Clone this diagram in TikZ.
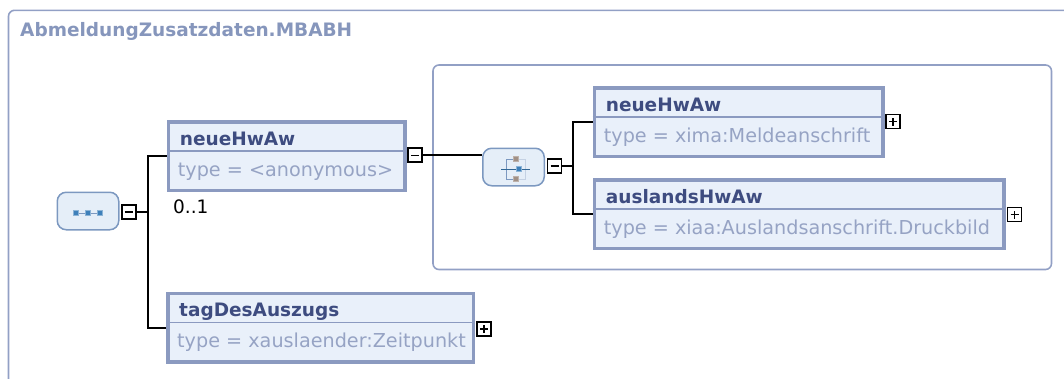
\documentclass[tikz,border=0pt]{standalone}
\usepackage{fontspec}
\setmainfont{DejaVu Sans}
\usetikzlibrary{positioning}
\definecolor{elemline}{RGB}{139, 154, 192}
\definecolor{elemfill}{RGB}{233, 240, 250}
\definecolor{namecol}{RGB}{62, 76, 128}
\definecolor{typecol}{RGB}{150, 163, 196}
\definecolor{grpline}{RGB}{146, 160, 197}
\definecolor{titlecol}{RGB}{134, 150, 188}
\definecolor{compline}{RGB}{124, 152, 192}
\definecolor{compfill}{RGB}{229, 238, 248}
\definecolor{iconblue}{RGB}{62, 128, 186}
\definecolor{iconbrown}{RGB}{160, 144, 134}
\tikzset{
  elem/.style      = {rectangle, draw=elemline, line width=3.5pt, fill=elemfill, minimum height=68.5pt, inner sep=0pt},
  elemname/.style  = {anchor=base west, inner sep=0pt, font=\fontsize{18.5}{22}\selectfont\bfseries, text=namecol},
  elemtype/.style  = {anchor=base west, inner sep=0pt, font=\fontsize{19.2}{22}\selectfont, text=typecol},
  sepline/.style   = {draw=elemline, line width=1.5pt},
  comp/.style      = {rectangle, rounded corners=9pt, draw=compline, line width=1.5pt, fill=compfill, minimum width=61.5pt, minimum height=37.5pt},
  pmbox/.style     = {rectangle, draw=black, line width=1.8pt, fill=white, minimum size=14pt, inner sep=0pt},
  minusbox/.style  = {pmbox, path picture={\draw[line width=1.6pt] ([xshift=-4pt]path picture bounding box.center) -- ([xshift=4pt]path picture bounding box.center);}},
  plusbox/.style   = {pmbox, path picture={\draw[line width=1.6pt] ([xshift=-4pt]path picture bounding box.center) -- ([xshift=4pt]path picture bounding box.center) ([yshift=-4pt]path picture bounding box.center) -- ([yshift=4pt]path picture bounding box.center);}},
  conn/.style      = {draw=black, line width=2pt},
  grp/.style       = {draw=grpline, line width=1.6pt, rounded corners=6pt},
  occ/.style       = {anchor=base west, inner sep=0pt, font=\fontsize{18.5}{22}\selectfont},
  sq/.style        = {rectangle, inner sep=0pt, minimum size=4.5pt, line width=0.6pt},
}

\begin{document}
\begin{tikzpicture}[x=1pt, y=-1pt]
  \useasboundingbox (0,0) rectangle (1064,378);
  \clip (0,0) rectangle (1064,378);

  % groups
  \draw[grp] (8.5,400) -- (8.5,10.3) -- (1090,10.3);
  \node[anchor=base west, inner sep=0pt, font=\fontsize{18.5}{22}\selectfont\bfseries, text=titlecol] (title) at (20,36) {AbmeldungZusatzdaten.MBABH};
  \draw[grp] (433,65) rectangle (1051.5,269.5);

  % sequence
  \node[comp] (seq) at (88,211) {};
  \begin{scope}[shift={(seq.center)}]
    \draw[compline, line width=1pt] (-12,2) -- (12,2);
    \foreach \dx in {-12,0,12}
      \node[sq, fill=iconblue, draw=iconblue!60] at (\dx,2) {};
  \end{scope}
  \node[minusbox] (seqm) at (128.7,212) {};

  % elements of sequence
  \node[elem, minimum width=236.5pt] (neue) at (286.7,156) {};
  \draw[sepline] ([yshift=-31pt]neue.north west) -- ([yshift=-31pt]neue.north east);
  \node[elemname] (neuename) at ([shift={(13pt,-25pt)}]neue.north west) {neueHwAw};
  \node[elemtype] (neuetype) at ([shift={(11pt,-56pt)}]neue.north west) {type = <anonymous>};
  \node[minusbox] (neuem) at (415,155.3) {};
  \node[occ] (neueocc) at (173,213) {0..1};

  \node[elem, minimum width=305.5pt] (tag) at (320.5,327.5) {};
  \draw[sepline] ([yshift=-31pt]tag.north west) -- ([yshift=-31pt]tag.north east);
  \node[elemname] (tagname) at ([shift={(13pt,-25pt)}]tag.north west) {tagDesAuszugs};
  \node[elemtype] (tagtype) at ([shift={(11pt,-56pt)}]tag.north west) {type = xauslaender:Zeitpunkt};
  \node[plusbox] (tagp) at (484,329) {};

  \coordinate (seqj) at (148,212);
  \draw[conn] (seqm.east) -- (seqj);
  \draw[conn] (neue.west) -| (seqj);
  \draw[conn] (tag.west) -| (seqj);

  % choice
  \node[comp] (choice) at (513.5,167) {};
  \begin{scope}[shift={(choice.center)}]
    \draw[compline, line width=1pt] (1.5,-8) -- (-7.5,-8) -- (-7.5,12) -- (1.5,12);
    \draw[compline!45, line width=1pt] (2,-8) -- (11.5,-8) -- (11.5,12) -- (2,12);
    \draw[iconblue!80!black, line width=1pt] (-12.5,2) -- (16.5,2);
    \node[sq, fill=iconbrown, draw=iconbrown!70] at (2.2,-8) {};
    \node[sq, fill=iconbrown, draw=iconbrown!70] at (2.2,12) {};
    \node[sq, minimum size=5.5pt, fill=iconblue, draw=iconblue!60] at (5.5,2) {};
  \end{scope}
  \node[minusbox] (choicem) at (554.5,165.8) {};
  \draw[conn] (neuem.east) -- (neuem.east -| choice.west);

  % elements of choice
  \node[elem, minimum width=288.8pt] (hwaw) at (738.8,122) {};
  \draw[sepline] ([yshift=-31pt]hwaw.north west) -- ([yshift=-31pt]hwaw.north east);
  \node[elemname] (hwawname) at ([shift={(13pt,-25pt)}]hwaw.north west) {neueHwAw};
  \node[elemtype] (hwawtype) at ([shift={(11pt,-56pt)}]hwaw.north west) {type = xima:Meldeanschrift};
  \node[plusbox] (hwawp) at (893,121.5) {};

  \node[elem, minimum width=409.8pt] (ausland) at (799.3,214) {};
  \draw[sepline] ([yshift=-31pt]ausland.north west) -- ([yshift=-31pt]ausland.north east);
  \node[elemname] (auslandname) at ([shift={(13pt,-25pt)}]ausland.north west) {auslandsHwAw};
  \node[elemtype] (auslandtype) at ([shift={(11pt,-56pt)}]ausland.north west) {type = xiaa:Auslandsanschrift.Druckbild};
  \node[plusbox] (auslandp) at (1014.5,214.5) {};

  \coordinate (choicej) at (572.7,165.8);
  \draw[conn] (choicem.east) -- (choicej);
  \draw[conn] (hwaw.west) -| (choicej);
  \draw[conn] (ausland.west) -| (choicej);
\end{tikzpicture}
\end{document}
